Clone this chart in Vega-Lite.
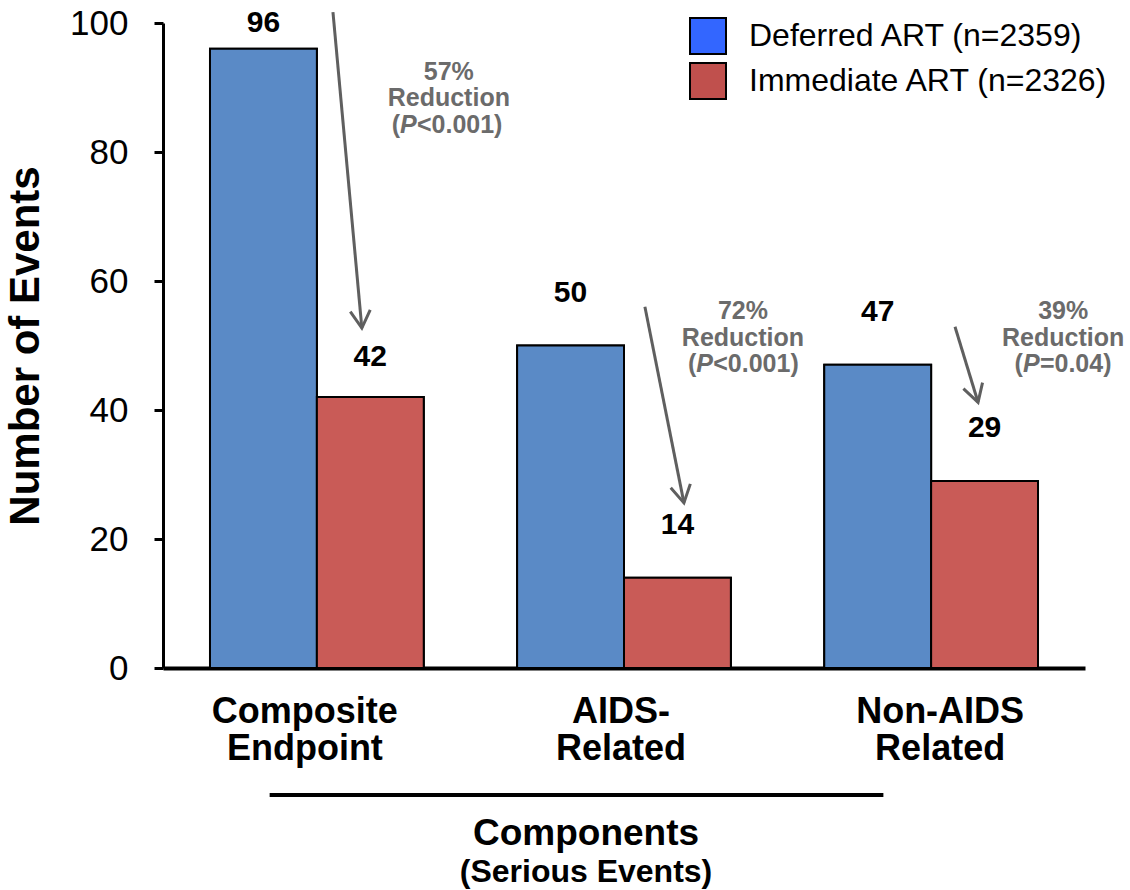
{
  "$schema": "https://vega.github.io/schema/vega-lite/v6.json",
  "width": 922,
  "height": 645,
  "autosize": {"type": "none"},
  "padding": {"left": 163, "top": 23, "right": 45, "bottom": 222},
  "background": "white",
  "config": {
    "font": "Liberation Sans",
    "view": {"stroke": null}
  },
  "title": {
    "text": "Components",
    "subtitle": "(Serious Events)",
    "orient": "bottom",
    "anchor": "middle",
    "frame": "group",
    "dx": -38,
    "offset": 19,
    "fontSize": 37,
    "fontWeight": "bold",
    "color": "black",
    "subtitleFontSize": 32,
    "subtitleFontWeight": "bold",
    "subtitleColor": "black",
    "subtitlePadding": 4
  },
  "layer": [
    {
      "data": {
        "values": [
          {"cat": "Composite|Endpoint", "series": "Deferred ART (n=2359)", "events": 96},
          {"cat": "Composite|Endpoint", "series": "Immediate ART (n=2326)", "events": 42},
          {"cat": "AIDS-|Related", "series": "Deferred ART (n=2359)", "events": 50},
          {"cat": "AIDS-|Related", "series": "Immediate ART (n=2326)", "events": 14},
          {"cat": "Non-AIDS|Related", "series": "Deferred ART (n=2359)", "events": 47},
          {"cat": "Non-AIDS|Related", "series": "Immediate ART (n=2326)", "events": 29}
        ]
      },
      "encoding": {
        "x": {
          "field": "cat",
          "type": "nominal",
          "sort": null,
          "scale": {"paddingInner": 0.304, "paddingOuter": 0.153},
          "axis": {
            "title": null,
            "labelExpr": "split(datum.label, '|')",
            "labelAngle": 0,
            "labelFontSize": 36,
            "labelFontWeight": "bold",
            "labelColor": "black",
            "labelBaseline": "top",
            "labelLineHeight": 37,
            "labelPadding": 26,
            "labelLimit": 400,
            "labelOffset": {"expr": "datum.value === 'Composite|Endpoint' ? -12 : datum.value === 'Non-AIDS|Related' ? 9 : -3"},
            "ticks": false,
            "domainColor": "black",
            "domainWidth": 4
          }
        },
        "xOffset": {
          "field": "series",
          "type": "nominal",
          "sort": ["Deferred ART (n=2359)", "Immediate ART (n=2326)"],
          "scale": {"paddingInner": 0, "paddingOuter": 0}
        },
        "y": {
          "field": "events",
          "type": "quantitative",
          "title": "Number of Events",
          "scale": {"domain": [0, 100], "nice": false},
          "axis": {
            "title": "Number of Events",
            "titleFontSize": 42,
            "titleFontWeight": "bold",
            "titleColor": "black",
            "titlePadding": 22,
            "values": [0, 20, 40, 60, 80, 100],
            "labelFontSize": 35,
            "labelColor": "black",
            "labelPadding": 26,
            "tickSize": 9,
            "tickWidth": 3,
            "tickColor": "black",
            "domainColor": "black",
            "domainWidth": 3,
            "grid": false
          }
        }
      },
      "layer": [
        {
          "mark": {"type": "bar", "stroke": "black", "strokeWidth": 2},
          "encoding": {
            "color": {
              "field": "series",
              "type": "nominal",
              "scale": {
                "domain": ["Deferred ART (n=2359)", "Immediate ART (n=2326)"],
                "range": ["#3366ff", "#c0504d"]
              },
              "legend": {
                "title": null,
                "orient": "none",
                "legendX": 526,
                "legendY": -6,
                "padding": 0,
                "symbolType": "square",
                "symbolSize": 1296,
                "symbolStrokeColor": "black",
                "symbolStrokeWidth": 2,
                "symbolOpacity": 1,
                "labelFontSize": 32,
                "labelColor": "black",
                "labelOffset": 22,
                "rowPadding": 1,
                "labelLimit": 500
              }
            }
          }
        },
        {
          "mark": {"type": "bar", "stroke": "black", "strokeWidth": 2},
          "encoding": {
            "fill": {
              "field": "series",
              "type": "nominal",
              "scale": {
                "domain": ["Deferred ART (n=2359)", "Immediate ART (n=2326)"],
                "range": ["#5a8ac6", "#c95b57"]
              },
              "legend": null
            }
          }
        },
        {
          "transform": [{"filter": "datum.cat !== 'Composite|Endpoint'"}],
          "mark": {"type": "text", "fontSize": 30, "fontWeight": "bold", "color": "black", "baseline": "middle", "dy": -53},
          "encoding": {"text": {"field": "events", "type": "quantitative"}}
        },
        {
          "transform": [{"filter": "datum.cat === 'Composite|Endpoint' && datum.events === 96"}],
          "mark": {"type": "text", "fontSize": 30, "fontWeight": "bold", "color": "black", "baseline": "middle", "dy": -26},
          "encoding": {"text": {"field": "events", "type": "quantitative"}}
        },
        {
          "transform": [{"filter": "datum.cat === 'Composite|Endpoint' && datum.events === 42"}],
          "mark": {"type": "text", "fontSize": 30, "fontWeight": "bold", "color": "black", "baseline": "middle", "dy": -40},
          "encoding": {"text": {"field": "events", "type": "quantitative"}}
        }
      ]
    },
    {
      "layer": [
        {
          "data": {"values": [{"from": -0.153, "to": 1.844, "level": -19.7}]},
          "mark": {"type": "rule", "color": "black", "strokeWidth": 4},
          "encoding": {
            "x": {"field": "from", "type": "quantitative", "scale": {"domain": [-0.5, 2.5], "nice": false, "zero": false}, "axis": null},
            "x2": {"field": "to"},
            "y": {"field": "level", "type": "quantitative", "title": "Number of Events", "scale": {"domain": [0, 100], "nice": false}}
          }
        },
        {
          "data": {
            "values": [
              {"x0": 0.053, "y0": 101.7, "x1": 0.147, "y1": 52.7},
              {"x0": 1.068, "y0": 56.0, "x1": 1.195, "y1": 25.6},
              {"x0": 2.077, "y0": 52.9, "x1": 2.152, "y1": 41.2}
            ]
          },
          "transform": [
            {"calculate": "-atan2((datum.x1 - datum.x0) * 922 / 3, (datum.y0 - datum.y1) * 6.45) * 180 / PI", "as": "headAngle"}
          ],
          "layer": [
            {
              "mark": {"type": "rule", "color": "#5f5f5f", "strokeWidth": 3},
              "encoding": {
                "x": {"field": "x0", "type": "quantitative", "scale": {"domain": [-0.5, 2.5], "nice": false, "zero": false}, "axis": null},
                "x2": {"field": "x1"},
                "y": {"field": "y0", "type": "quantitative", "title": "Number of Events", "scale": {"domain": [0, 100], "nice": false}},
                "y2": {"field": "y1"}
              }
            },
            {
              "mark": {
                "type": "point",
                "shape": "M-0.5,-0.87L0,0L0.5,-0.87",
                "filled": false,
                "stroke": "#5f5f5f",
                "strokeWidth": 3,
                "size": 1600,
                "opacity": 1
              },
              "encoding": {
                "x": {"field": "x1", "type": "quantitative", "scale": {"domain": [-0.5, 2.5], "nice": false, "zero": false}, "axis": null},
                "y": {"field": "y1", "type": "quantitative", "title": "Number of Events", "scale": {"domain": [0, 100], "nice": false}},
                "angle": {"field": "headAngle", "type": "quantitative", "scale": null}
              }
            }
          ]
        },
        {
          "data": {
            "values": [
              {"x": 0.43, "y": 92.4, "line": "57%"},
              {"x": 0.43, "y": 88.3, "line": "Reduction"},
              {"x": 1.387, "y": 55.3, "line": "72%"},
              {"x": 1.387, "y": 51.2, "line": "Reduction"},
              {"x": 2.429, "y": 55.3, "line": "39%"},
              {"x": 2.429, "y": 51.2, "line": "Reduction"}
            ]
          },
          "mark": {"type": "text", "fontSize": 25, "fontWeight": "bold", "color": "#6b6b6b", "baseline": "middle", "align": "center"},
          "encoding": {
            "x": {"field": "x", "type": "quantitative", "scale": {"domain": [-0.5, 2.5], "nice": false, "zero": false}, "axis": null},
            "y": {"field": "y", "type": "quantitative", "title": "Number of Events", "scale": {"domain": [0, 100], "nice": false}},
            "text": {"field": "line"}
          }
        },
        {
          "data": {
            "values": [
              {"x": 0.271, "y": 84.2, "rest": "<0.001)"},
              {"x": 1.235, "y": 47.1, "rest": "<0.001)"},
              {"x": 2.298, "y": 47.1, "rest": "=0.04)"}
            ]
          },
          "encoding": {
            "x": {"field": "x", "type": "quantitative", "scale": {"domain": [-0.5, 2.5], "nice": false, "zero": false}, "axis": null},
            "y": {"field": "y", "type": "quantitative", "title": "Number of Events", "scale": {"domain": [0, 100], "nice": false}}
          },
          "layer": [
            {
              "mark": {"type": "text", "fontSize": 25, "fontWeight": "bold", "color": "#6b6b6b", "baseline": "middle", "align": "right"},
              "encoding": {"text": {"value": "("}}
            },
            {
              "mark": {"type": "text", "fontSize": 25, "fontWeight": "bold", "fontStyle": "italic", "color": "#6b6b6b", "baseline": "middle", "align": "left"},
              "encoding": {"text": {"value": "P"}}
            },
            {
              "mark": {"type": "text", "fontSize": 25, "fontWeight": "bold", "color": "#6b6b6b", "baseline": "middle", "align": "left", "dx": 17},
              "encoding": {"text": {"field": "rest"}}
            }
          ]
        }
      ]
    }
  ],
  "resolve": {"scale": {"x": "independent"}, "axis": {"x": "independent"}}
}
